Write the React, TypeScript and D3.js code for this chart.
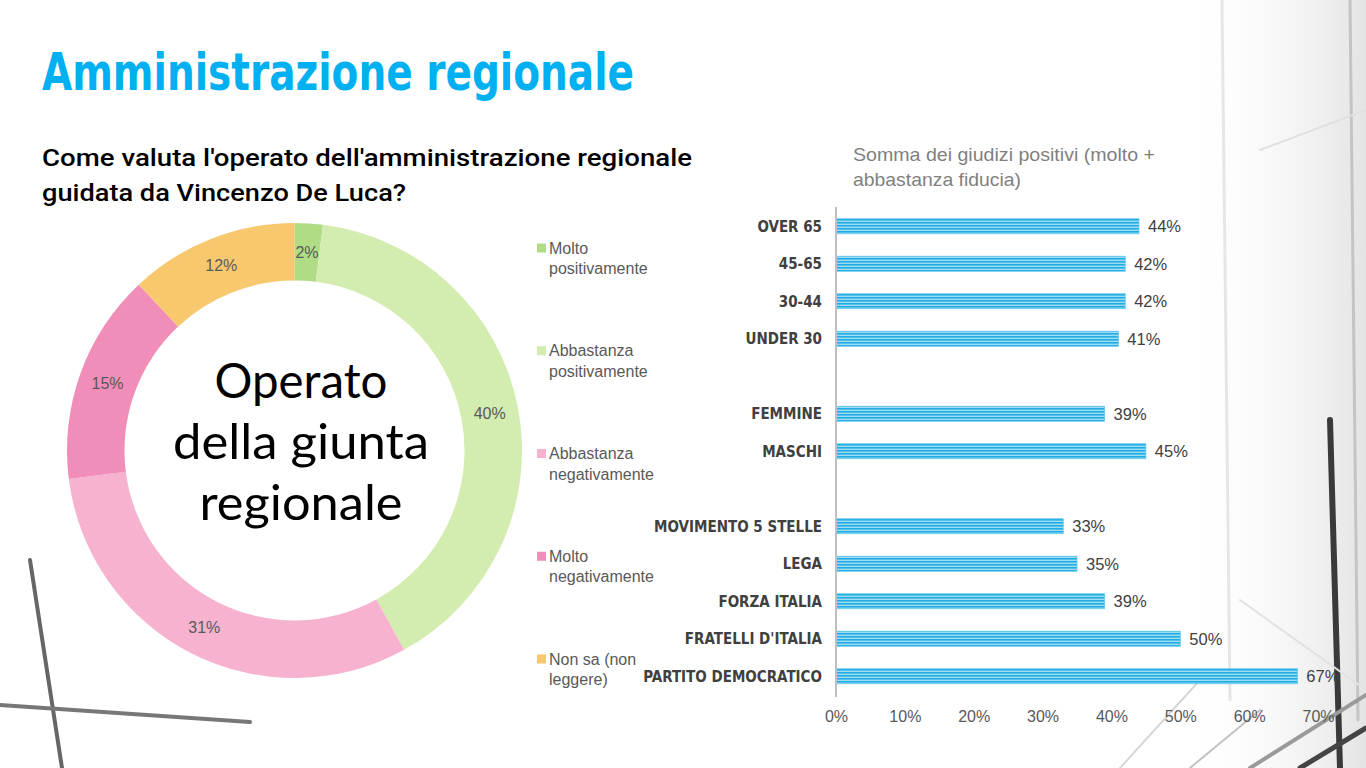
import { useRef, useEffect } from "react";
import * as d3 from "d3";

// donut: valutazione dell'operato
const judgementLabels = [
  ["Molto", "positivamente"],
  ["Abbastanza", "positivamente"],
  ["Abbastanza", "negativamente"],
  ["Molto", "negativamente"],
  ["Non sa (non", "leggere)"],
];
const judgementValues = [2, 40, 31, 15, 12];
const judgementColors = ["#b1dc86", "#d3ecaf", "#f6b2cf", "#f08db9", "#f8c86f"];

// bars: somma dei giudizi positivi ("" = empty row between groups)
const groupLabels = [
  "OVER 65",
  "45-65",
  "30-44",
  "UNDER 30",
  "",
  "FEMMINE",
  "MASCHI",
  "",
  "MOVIMENTO 5 STELLE",
  "LEGA",
  "FORZA ITALIA",
  "FRATELLI D'ITALIA",
  "PARTITO DEMOCRATICO",
];
const groupValues = [44, 42, 42, 41, null, 39, 45, null, 33, 35, 39, 50, 67];
const xTicks = [0, 10, 20, 30, 40, 50, 60, 70];

const centerLines = ["Operato", "della giunta", "regionale"];

const NARROW = "'Liberation Sans Narrow', 'DejaVu Sans Condensed', 'Liberation Sans', sans-serif";
const SANS = "'Liberation Sans', Arial, sans-serif";

export default function App() {
  const svgRef = useRef<SVGSVGElement>(null);

  useEffect(() => {
    if (!svgRef.current) return;
    const width = 1366;
    const height = 768;
    const svg = d3.select(svgRef.current);
    svg.selectAll("*").remove();
    svg.attr("width", width).attr("height", height).attr("viewBox", `0 0 ${width} ${height}`);

    const defs = svg.append("defs");
    const pat = defs
      .append("pattern")
      .attr("id", "stripes")
      .attr("patternUnits", "userSpaceOnUse")
      .attr("width", 6)
      .attr("height", 3);
    pat.append("rect").attr("width", 6).attr("height", 3).attr("fill", "#9fdcf3");
    pat.append("rect").attr("y", 0).attr("width", 6).attr("height", 1.6).attr("fill", "#22ade2");

    const grad = defs
      .append("linearGradient")
      .attr("id", "bgfade")
      .attr("x1", 0)
      .attr("x2", 1)
      .attr("y1", 0)
      .attr("y2", 0);
    grad.append("stop").attr("offset", "0").attr("stop-color", "#ffffff").attr("stop-opacity", 0);
    grad.append("stop").attr("offset", "1").attr("stop-color", "#c8c8c8").attr("stop-opacity", 0.5);

    // background (rough hint of the photo)
    svg.append("rect").attr("width", width).attr("height", height).attr("fill", "#ffffff");
    svg.append("rect").attr("x", 1180).attr("width", 186).attr("height", height).attr("fill", "url(#bgfade)");
    const deco = svg.append("g").attr("fill", "none").attr("stroke-linecap", "round");
    const decoLines: [number, number, number, number, string, number][] = [
      [30, 560, 62, 768, "#666", 4],
      [0, 705, 250, 722, "#777", 4],
      [1350, 0, 1358, 720, "#c4c4c4", 3],
      [1330, 420, 1340, 768, "#3a3a3a", 6],
      [1222, 0, 1230, 700, "#e6e6e6", 3],
      [1260, 150, 1366, 110, "#e0e0e0", 2],
      [1240, 600, 1366, 690, "#e2e2e2", 2],
      [1120, 768, 1200, 680, "#d6d6d6", 2],
      [1250, 768, 1366, 695, "#9a9a9a", 4],
      [1300, 768, 1366, 728, "#444", 5],
      [1190, 768, 1260, 710, "#c2c2c2", 2],
    ];
    decoLines.forEach(([x1, y1, x2, y2, c, w]) =>
      deco.append("line").attr("x1", x1).attr("y1", y1).attr("x2", x2).attr("y2", y2).attr("stroke", c).attr("stroke-width", w)
    );

    // titles
    svg
      .append("text")
      .attr("x", 42)
      .attr("y", 90)
      .attr("textLength", 592)
      .attr("lengthAdjust", "spacingAndGlyphs")
      .style("font-family", NARROW)
      .style("font-weight", "bold")
      .style("font-size", "52px")
      .style("fill", "#00b0f0")
      .text("Amministrazione regionale");

    const sub = [
      { t: "Come valuta l'operato dell'amministrazione regionale", y: 166, w: 650 },
      { t: "guidata da Vincenzo De Luca?", y: 201, w: 364 },
    ];
    sub.forEach((s) =>
      svg
        .append("text")
        .attr("x", 42)
        .attr("y", s.y)
        .attr("textLength", s.w)
        .attr("lengthAdjust", "spacingAndGlyphs")
        .style("font-family", "Roboto, 'Liberation Sans', sans-serif")
        .style("font-weight", 500)
        .style("font-size", "23px")
        .style("fill", "#000")
        .text(s.t)
    );

    // donut
    const cx = 294.5;
    const cy = 450.5;
    const outerR = 227.5;
    const innerR = 170;
    const pie = d3.pie<number>().sort(null).value((d) => d);
    const arcs = pie(judgementValues);
    const arc = d3.arc<d3.PieArcDatum<number>>().innerRadius(innerR).outerRadius(outerR);
    const donut = svg.append("g").attr("transform", `translate(${cx},${cy})`);
    donut
      .selectAll("path")
      .data(arcs)
      .join("path")
      .attr("d", arc)
      .attr("fill", (_, i) => judgementColors[i]);
    donut
      .selectAll("text")
      .data(arcs)
      .join("text")
      .attr("transform", (d) => `translate(${arc.centroid(d)})`)
      .attr("text-anchor", "middle")
      .attr("dy", "0.35em")
      .style("font-family", SANS)
      .style("font-size", "16px")
      .style("fill", "#595959")
      .text((d) => `${d.data}%`);

    const centerW = [173, 256, 203];
    centerLines.forEach((t, i) =>
      svg
        .append("text")
        .attr("x", 301)
        .attr("y", 398 + i * 61)
        .attr("text-anchor", "middle")
        .attr("textLength", centerW[i])
        .attr("lengthAdjust", "spacingAndGlyphs")
        .style("font-family", "Lato, 'Open Sans', sans-serif")
        .style("font-size", "48px")
        .style("fill", "#000")
        .text(t)
    );

    // legend
    const legY = d3.scaleLinear().domain([0, judgementLabels.length - 1]).range([248, 659]);
    const leg = svg.append("g");
    judgementLabels.forEach((lines, i) => {
      const y = legY(i);
      leg
        .append("rect")
        .attr("x", 537)
        .attr("y", y - 4.5)
        .attr("width", 9)
        .attr("height", 9)
        .attr("fill", judgementColors[i]);
      lines.forEach((l, j) =>
        leg
          .append("text")
          .attr("x", 549)
          .attr("y", y + 5.5 + j * 20.5)
          .style("font-family", SANS)
          .style("font-size", "16px")
          .style("fill", "#595959")
          .text(l)
      );
    });

    // bar chart
    const x = d3.scaleLinear().domain([0, 70]).range([836, 1318]);
    const y = d3
      .scaleBand<number>()
      .domain(groupLabels.map((_, i) => i))
      .range([207.5, 695])
      .paddingInner(0.6)
      .paddingOuter(0.3);

    const chartTitle = [
      { t: "Somma dei giudizi positivi (molto +", y: 161, w: 302 },
      { t: "abbastanza fiducia)", y: 186, w: 168 },
    ];
    chartTitle.forEach((s) =>
      svg
        .append("text")
        .attr("x", 853)
        .attr("y", s.y)
        .attr("textLength", s.w)
        .attr("lengthAdjust", "spacingAndGlyphs")
        .style("font-family", SANS)
        .style("font-size", "18.5px")
        .style("fill", "#7f7f7f")
        .text(s.t)
    );

    const bars = groupValues
      .map((v, i) => ({ v, i, label: groupLabels[i] }))
      .filter((d) => d.v !== null) as { v: number; i: number; label: string }[];

    const bg = svg.append("g");
    bg.selectAll("rect")
      .data(bars)
      .join("rect")
      .attr("x", x(0))
      .attr("y", (d) => y(d.i) ?? 0)
      .attr("width", (d) => x(d.v) - x(0))
      .attr("height", y.bandwidth())
      .attr("fill", "url(#stripes)")
      .attr("stroke", "#5cc6ee")
      .attr("stroke-width", 0.8);

    bg.selectAll(".val")
      .data(bars)
      .join("text")
      .attr("class", "val")
      .attr("x", (d) => x(d.v) + 9)
      .attr("y", (d) => (y(d.i) ?? 0) + y.bandwidth() / 2)
      .attr("dy", "0.36em")
      .style("font-family", SANS)
      .style("font-size", "16.5px")
      .style("fill", "#404040")
      .text((d) => `${d.v}%`);

    bg.selectAll(".cat")
      .data(bars)
      .join("text")
      .attr("class", "cat")
      .attr("x", 822)
      .attr("y", (d) => (y(d.i) ?? 0) + y.bandwidth() / 2)
      .attr("dy", "0.36em")
      .attr("text-anchor", "end")
      .style("font-family", NARROW)
      .style("font-weight", "bold")
      .style("font-size", "15px")
      .style("fill", "#404040")
      .text((d) => d.label);

    // y axis line
    svg
      .append("line")
      .attr("x1", x(0))
      .attr("x2", x(0))
      .attr("y1", 207)
      .attr("y2", 697)
      .attr("stroke", "#bfbfbf")
      .attr("stroke-width", 2);

    // x axis tick labels
    const xa = svg
      .append("g")
      .attr("transform", "translate(0,716)")
      .call(
        d3
          .axisBottom(x)
          .tickValues(xTicks)
          .tickSize(0)
          .tickFormat((d) => `${d}%`)
      );
    xa.select(".domain").remove();
    xa.selectAll("text")
      .attr("y", 0)
      .attr("dy", "0.36em")
      .style("font-family", SANS)
      .style("font-size", "16px")
      .style("fill", "#595959");
  }, []);

  return <svg ref={svgRef} style={{ position: "absolute", left: 0, top: 0, display: "block" }} />;
}
